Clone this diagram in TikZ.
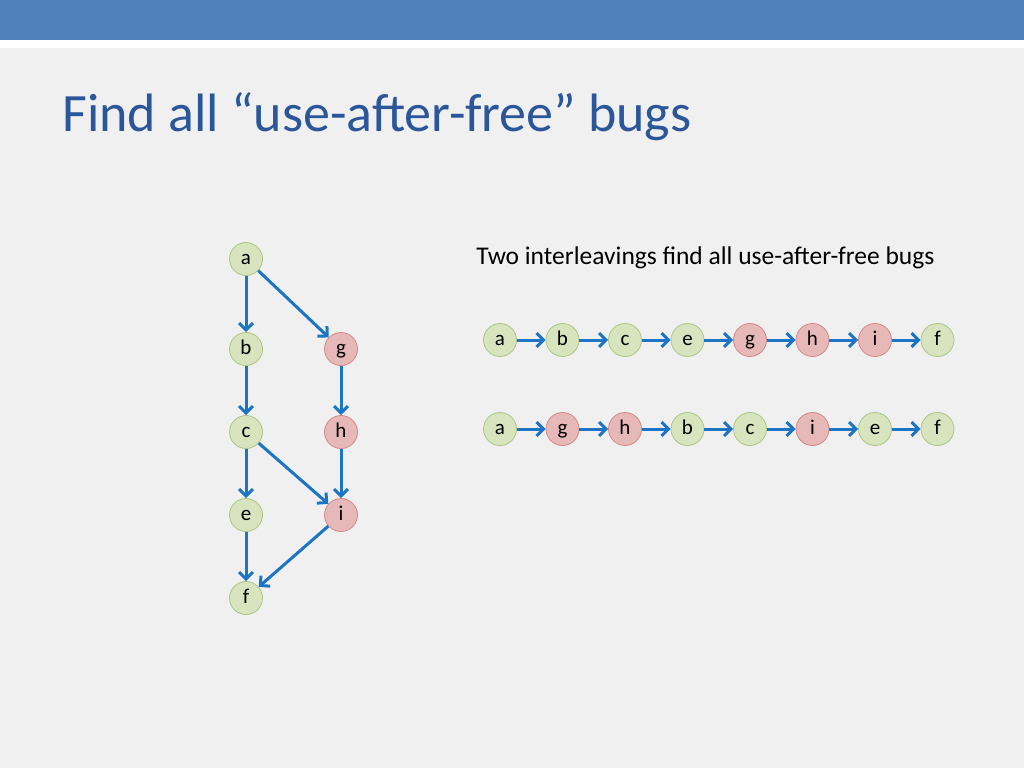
\documentclass[tikz,border=0pt]{standalone}
\usepackage{fontspec}
\setmainfont{Carlito}
\usetikzlibrary{arrows.meta}
\definecolor{barblue}{HTML}{4F81BD}
\definecolor{titleblue}{HTML}{2B579A}
\definecolor{edgeblue}{HTML}{1C75C4}
\definecolor{gfill}{HTML}{D7E4BD}
\definecolor{gline}{HTML}{A9C47F}
\definecolor{rfill}{HTML}{E6B9B8}
\definecolor{rline}{HTML}{C0504D}
\tikzset{every picture/.style={line width=0.75pt}}
\tikzset{
  okstate/.style={circle,fill=gfill,draw=gline,minimum size=33pt,inner sep=0pt,text height=14pt,text depth=3pt,font=\fontsize{21}{21}\selectfont},
  badstate/.style={okstate,fill=rfill,draw=rline!70},
  flow/.style={draw=edgeblue,line width=3pt,-{Straight Barb[length=7pt,width=14pt]}}
}
\begin{document}
\begin{tikzpicture}[x=1pt,y=-1pt]
\useasboundingbox (0,0) rectangle (1024,768);
\fill[gray!12] (0,0) rectangle (1024,768);
\fill[white] (0,40) rectangle (1024,48);
\fill[barblue] (0,0) rectangle (1024,40);

% Title
\node[anchor=west,text=titleblue,font=\fontsize{54}{54}\selectfont,inner sep=0pt] (title) at (62,117) {Find all “use-after-free” bugs};
\node[anchor=west,font=\fontsize{25.5}{25.5}\selectfont,inner sep=0pt] (caption) at (476,258) {Two interleavings find all use-after-free bugs};

% partial order
\node[okstate] (a) at (246,259) {a};
\node[okstate] (b) at (246,349) {b};
\node[badstate] (g) at (341,349) {g};
\node[okstate] (c) at (246,432) {c};
\node[badstate] (h) at (341,432) {h};
\node[okstate] (e) at (246,515) {e};
\node[badstate] (i) at (341,515) {i};
\node[okstate] (f) at (246,598) {f};

\draw[flow] (a) -- (b);
\draw[flow] (a) -- (g);
\draw[flow] (b) -- (c);
\draw[flow] (g) -- (h);
\draw[flow] (c) -- (e);
\draw[flow] (c) -- (i);
\draw[flow] (h) -- (i);
\draw[flow] (e) -- (f);
\draw[flow] (i) -- (f);

% interleavings
\foreach \lab/\sty [count=\k] in {a/okstate,b/okstate,c/okstate,e/okstate,g/badstate,h/badstate,i/badstate,f/okstate}
  \node[\sty] (p\k) at ({500+62.5*(\k-1)},340) {\lab};
\foreach \lab/\sty [count=\k] in {a/okstate,g/badstate,h/badstate,b/okstate,c/okstate,i/badstate,e/okstate,f/okstate}
  \node[\sty] (q\k) at ({500+62.5*(\k-1)},429) {\lab};
\foreach \k [evaluate=\k as \n using int(\k+1)] in {1,...,7} {
  \draw[flow] (p\k) -- (p\n);
  \draw[flow] (q\k) -- (q\n);
}
\end{tikzpicture}
\end{document}
